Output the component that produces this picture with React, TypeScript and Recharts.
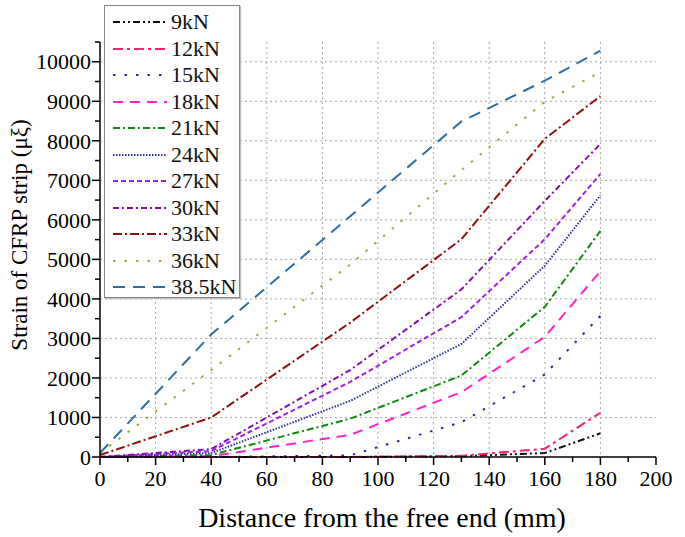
import React from 'react';
import { LineChart, Line, XAxis, YAxis, CartesianGrid } from 'recharts';

// positions along the strip (mm)
const distances = [0, 40, 90, 130, 160, 180];

// strain readings (με) per load level
const s9kN = [0, 0, 0, 20, 100, 600];
const s12kN = [0, 0, 0, 30, 210, 1120];
const s15kN = [0, 0, 40, 880, 2090, 3570];
const s18kN = [0, 20, 560, 1640, 3040, 4700];
const s21kN = [0, 50, 970, 2060, 3800, 5720];
const s24kN = [0, 100, 1420, 2860, 4840, 6620];
const s27kN = [0, 150, 1900, 3540, 5510, 7160];
const s30kN = [0, 200, 2200, 4240, 6480, 7920];
const s33kN = [50, 1000, 3400, 5510, 8050, 9130];
const s36kN = [100, 2200, 4870, 7260, 8990, 9740];
const s385kN = [100, 3100, 6090, 8490, 9520, 10280];

const xTicks = [0, 10, 20, 30, 40, 50, 60, 70, 80, 90, 100, 110, 120, 130, 140, 150, 160, 170, 180, 190, 200];
const yTicks = [0, 500, 1000, 1500, 2000, 2500, 3000, 3500, 4000, 4500, 5000, 5500, 6000, 6500, 7000, 7500, 8000, 8500, 9000, 9500, 10000, 10500];
const xGrid = [20, 40, 60, 80, 100, 120, 140, 160, 180];
const yGrid = [1000, 2000, 3000, 4000, 5000, 6000, 7000, 8000, 9000, 10000];

const series = [
  { key: 'k9', name: '9kN', values: s9kN, color: '#111111', dash: '7 3 2 3 2 3' },
  { key: 'k12', name: '12kN', values: s12kN, color: '#FF2070', dash: '10 4 3 4' },
  { key: 'k15', name: '15kN', values: s15kN, color: '#2828A8', dash: '2.5 9' },
  { key: 'k18', name: '18kN', values: s18kN, color: '#FF22CC', dash: '10 7' },
  { key: 'k21', name: '21kN', values: s21kN, color: '#118811', dash: '7 3 2 3' },
  { key: 'k24', name: '24kN', values: s24kN, color: '#3030A0', dash: '1.5 1.5' },
  { key: 'k27', name: '27kN', values: s27kN, color: '#A020E0', dash: '5 3' },
  { key: 'k30', name: '30kN', values: s30kN, color: '#8010B0', dash: '6 3 2 3' },
  { key: 'k33', name: '33kN', values: s33kN, color: '#901010', dash: '9 3 2 3' },
  { key: 'k36', name: '36kN', values: s36kN, color: '#A8A840', dash: '2.5 9' },
  { key: 'k385', name: '38.5kN', values: s385kN, color: '#2C6FA5', dash: '12 8' },
];

const data = distances.map((d, i) => {
  const row: Record<string, number> = { x: d };
  series.forEach((s) => {
    row[s.key] = s.values[i];
  });
  return row;
});

const FONT = '"Liberation Serif", "Times New Roman", serif';

function XTick(props: any) {
  const { x, y, payload } = props;
  const major = payload.value % 20 === 0;
  return (
    <g>
      <line x1={x} x2={x} y1={y} y2={y + (major ? 8 : 5)} stroke="#000" strokeWidth={1.5} />
      {major && (
        <text x={x} y={y + 29} textAnchor="middle" fontSize={22} fontFamily={FONT} fill="#000">
          {payload.value}
        </text>
      )}
    </g>
  );
}

function YTick(props: any) {
  const { x, y, payload } = props;
  const major = payload.value % 1000 === 0;
  return (
    <g>
      <line x1={x} x2={x - (major ? 8 : 5)} y1={y} y2={y} stroke="#000" strokeWidth={1.5} />
      {major && payload.value <= 10000 && (
        <text x={x - 9} y={y} dy="0.35em" textAnchor="end" fontSize={22} fontFamily={FONT} fill="#000">
          {payload.value}
        </text>
      )}
    </g>
  );
}

function YTitle() {
  return (
    <text
      transform="translate(19,235) rotate(-90)"
      textAnchor="middle"
      dy="0.35em"
      fontSize={23}
      fontFamily={FONT}
      fill="#000"
    >
      Strain of CFRP strip (μξ)
    </text>
  );
}

function XTitle() {
  return (
    <text x={382} y={527} textAnchor="middle" fontSize={28} fontFamily={FONT} fill="#000">
      Distance from the free end (mm)
    </text>
  );
}

function LegendBox() {
  return (
    <div
      style={{
        position: 'absolute',
        left: 104,
        top: 5,
        width: 136,
        height: 293,
        background: '#fff',
        border: '1px solid #888',
        boxShadow: '1px 1px 1px #bbb',
        boxSizing: 'border-box',
        paddingTop: 3,
      }}
    >
      {series.map((s) => (
        <div key={s.key} style={{ height: 26.5, display: 'flex', alignItems: 'center' }}>
          <svg width={60} height={10} style={{ marginLeft: 6 }}>
            <line x1={2} x2={56} y1={5} y2={5} stroke={s.color} strokeWidth={2.2} strokeDasharray={s.dash} />
          </svg>
          <span style={{ fontFamily: FONT, fontSize: 22, color: '#111', lineHeight: '22px' }}>{s.name}</span>
        </div>
      ))}
    </div>
  );
}

export default function App() {
  return (
    <div style={{ position: 'absolute', left: 0, top: 0, width: 685, height: 537, background: '#fff' }}>
      <LineChart width={685} height={537} data={data} margin={{ top: 42, right: 29, left: 0, bottom: 0 }}>
        <CartesianGrid
          stroke="#a8a8a8"
          strokeDasharray="2 3"
          verticalValues={xGrid}
          horizontalValues={yGrid}
        />
        <XAxis
          dataKey="x"
          type="number"
          domain={[0, 200]}
          ticks={xTicks}
          interval={0}
          height={80}
          tickSize={0}
          tickMargin={0}
          tickLine={false}
          tick={<XTick />}
          axisLine={{ stroke: '#000', strokeWidth: 1.5 }}
          label={{ content: <XTitle /> }}
        />
        <YAxis
          type="number"
          domain={[0, 10500]}
          ticks={yTicks}
          interval={0}
          width={100}
          tickSize={0}
          tickMargin={0}
          tickLine={false}
          tick={<YTick />}
          axisLine={{ stroke: '#000', strokeWidth: 1.5 }}
          label={{ content: <YTitle /> }}
        />
        {series.map((s) => (
          <Line
            key={s.key}
            dataKey={s.key}
            name={s.name}
            stroke={s.color}
            strokeWidth={2}
            strokeDasharray={s.dash}
            dot={false}
            activeDot={false}
            type="linear"
            isAnimationActive={false}
          />
        ))}
      </LineChart>
      <LegendBox />
    </div>
  );
}
